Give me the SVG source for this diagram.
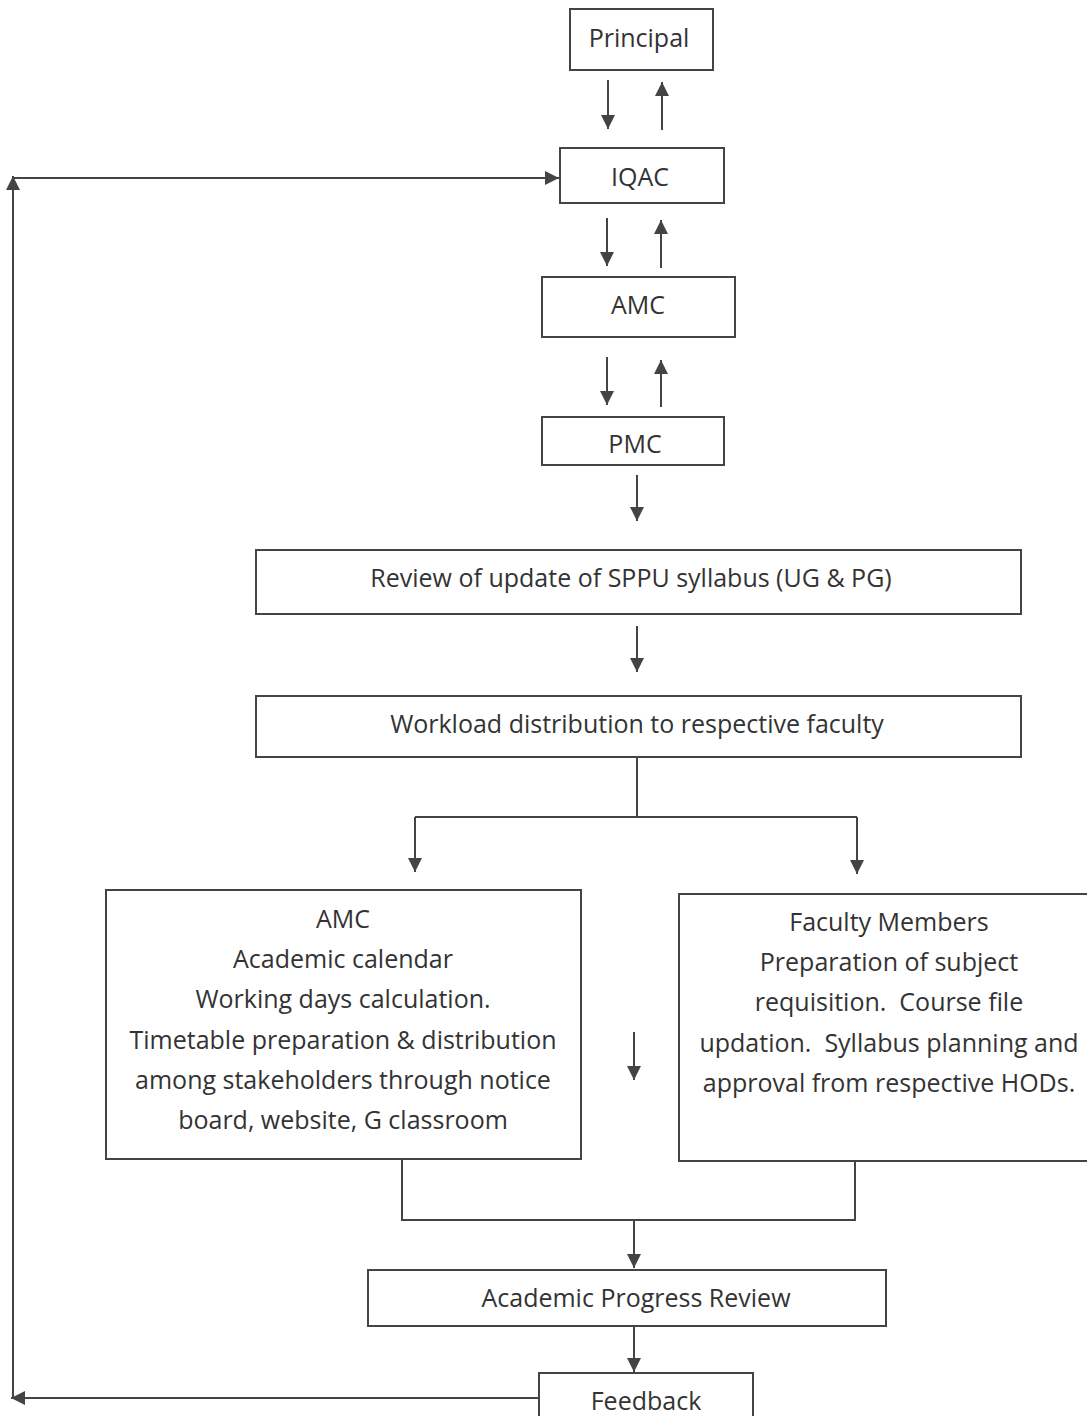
<svg xmlns="http://www.w3.org/2000/svg" width="1087" height="1416" viewBox="0 0 1087 1416">
<style>
.box{fill:#fff;stroke:#444;stroke-width:2}
.t{font-family:"Open Sans","Liberation Sans",sans-serif;font-size:25px;fill:#333;text-anchor:middle}
.c{fill:none;stroke:#444;stroke-width:2}
</style>
<defs>
<marker id="ahb" viewBox="0 0 10 10" refX="10" refY="5" markerWidth="14" markerHeight="14" markerUnits="userSpaceOnUse" orient="auto"><path d="M0,0 L10,5 L0,10 Z" fill="#444"/></marker>
</defs>
<rect width="1087" height="1416" fill="#fff"/>
<g id="connectors">
<path class="c" marker-end="url(#ahb)" d="M608,80 V129"/>
<path class="c" marker-end="url(#ahb)" d="M662,130 V82"/>
<path class="c" marker-end="url(#ahb)" d="M607,218 V266"/>
<path class="c" marker-end="url(#ahb)" d="M661,268 V220"/>
<path class="c" marker-end="url(#ahb)" d="M607,357 V405"/>
<path class="c" marker-end="url(#ahb)" d="M661,407 V360"/>
<path class="c" marker-end="url(#ahb)" d="M637,475 V521"/>
<path class="c" marker-end="url(#ahb)" d="M637,626 V672"/>
<path class="c" d="M637,757 V817 M415,817 H857"/>
<path class="c" marker-end="url(#ahb)" d="M415,817 V872"/>
<path class="c" marker-end="url(#ahb)" d="M857,817 V874"/>
<path class="c" marker-end="url(#ahb)" d="M634,1032 V1080"/>
<path class="c" d="M402,1159 V1220 H855 V1161"/>
<path class="c" marker-end="url(#ahb)" d="M634,1220 V1268"/>
<path class="c" marker-end="url(#ahb)" d="M634,1326 V1372"/>
<path class="c" marker-end="url(#ahb)" d="M539,1398 H11"/>
<path class="c" marker-end="url(#ahb)" d="M13,1398 V176"/>
<path class="c" marker-end="url(#ahb)" d="M13,178 H559"/>
</g>
<g id="principal"><rect class="box" x="570" y="9" width="143" height="61"/><text class="t" x="639" y="47">Principal</text></g>
<g id="iqac"><rect class="box" x="560" y="148" width="164" height="55"/><text class="t" x="640" y="186">IQAC</text></g>
<g id="amc"><rect class="box" x="542" y="277" width="193" height="60"/><text class="t" x="638" y="314">AMC</text></g>
<g id="pmc"><rect class="box" x="542" y="417" width="182" height="48"/><text class="t" x="635" y="453">PMC</text></g>
<g id="review"><rect class="box" x="256" y="550" width="765" height="64"/><text class="t" x="631" y="587">Review of update of SPPU syllabus (UG &amp; PG)</text></g>
<g id="workload"><rect class="box" x="256" y="696" width="765" height="61"/><text class="t" x="637" y="733">Workload distribution to respective faculty</text></g>
<g id="amc-calendar"><rect class="box" x="106" y="890" width="475" height="269"/>
<text class="t" x="343" y="928">AMC</text>
<text class="t" x="343" y="968">Academic calendar</text>
<text class="t" x="343" y="1008">Working days calculation.</text>
<text class="t" x="343" y="1049">Timetable preparation &amp; distribution</text>
<text class="t" x="343" y="1089">among stakeholders through notice</text>
<text class="t" x="343" y="1129">board, website, G classroom</text></g>
<g id="faculty"><rect class="box" x="679" y="894" width="420" height="267"/>
<text class="t" x="889" y="931">Faculty Members</text>
<text class="t" x="889" y="971">Preparation of subject</text>
<text class="t" x="889" y="1011" xml:space="preserve">requisition.  Course file</text>
<text class="t" x="889" y="1052" xml:space="preserve">updation.  Syllabus planning and</text>
<text class="t" x="889" y="1092">approval from respective HODs.</text></g>
<g id="progress"><rect class="box" x="368" y="1270" width="518" height="56"/><text class="t" x="636" y="1307">Academic Progress Review</text></g>
<g id="feedback"><rect class="box" x="539" y="1373" width="214" height="60"/><text class="t" x="646" y="1410">Feedback</text></g>
</svg>
